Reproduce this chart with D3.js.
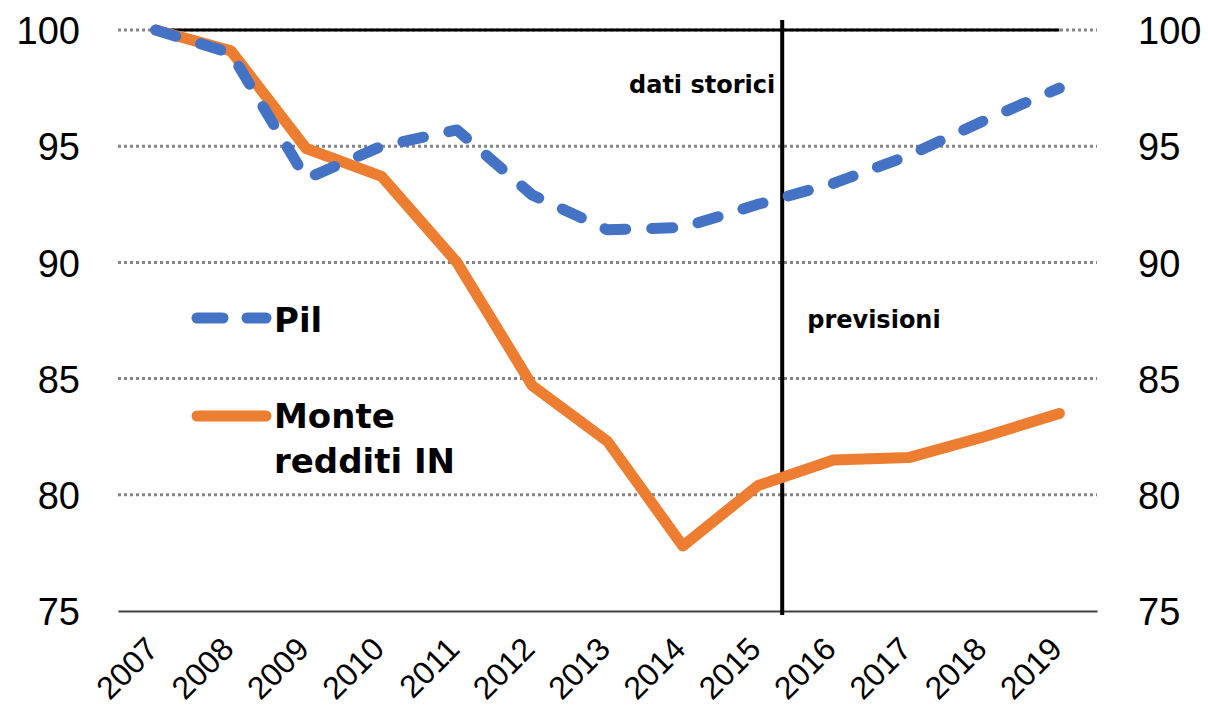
<!doctype html>
<html lang="it">
<head>
  <meta charset="utf-8">
  <title>Pil e monte redditi - D3</title>
  <style>
    body { margin: 0; background: #fff; }
  </style>
</head>
<body>
  <svg width="1208" height="707"></svg>

  <script src="https://cdn.jsdelivr.net/npm/d3@7"></script>
  <script>
    var years = [2007, 2008, 2009, 2010, 2011, 2012, 2013, 2014, 2015, 2016, 2017, 2018, 2019];
    var pil = [100, 99.0, 93.6, 95.0, 95.7, 92.9, 91.4, 91.5, 92.5, 93.4, 94.6, 96.1, 97.5];
    var monteRedditi = [100, 99.1, 94.9, 93.7, 90.0, 84.7, 82.3, 77.8, 80.4, 81.5, 81.6, 82.5, 83.5];
    var baseline = [100, 100, 100, 100, 100, 100, 100, 100, 100, 100, 100, 100, 100];
    var yTicks = [75, 80, 85, 90, 95, 100];
    var dividerYear = 2015.32;
    var seriesNames = ['Pil', 'Monte redditi IN'];

    var svg = d3.select('svg');
    var plotLeft = 118, plotRight = 1097, plotTop = 30, plotBottom = 611;

    var x = d3.scaleLinear().domain([2006.5, 2019.5]).range([plotLeft, plotRight]);
    var y = d3.scaleLinear().domain([75, 100]).range([plotBottom, plotTop]);

    // gridlines (dotted)
    svg.append('g').selectAll('line').data(yTicks.filter(d => d > 75)).enter()
      .append('line')
      .attr('x1', plotLeft).attr('x2', plotRight)
      .attr('y1', d => y(d)).attr('y2', d => y(d))
      .attr('stroke', '#858585')
      .attr('stroke-width', 3)
      .attr('stroke-dasharray', '3,3');

    // left / right axes: labels only
    var axL = svg.append('g')
      .attr('transform', 'translate(' + (plotLeft - 38) + ',0)')
      .call(d3.axisLeft(y).tickValues(yTicks).tickSize(0).tickPadding(0));
    var axR = svg.append('g')
      .attr('transform', 'translate(' + (plotRight + 41) + ',0)')
      .call(d3.axisRight(y).tickValues(yTicks).tickSize(0).tickPadding(0));
    [axL, axR].forEach(function (a) {
      a.select('.domain').remove();
      a.selectAll('text')
        .attr('font-family', '"Liberation Sans", Arial, sans-serif')
        .attr('font-size', '38px')
        .attr('fill', '#000')
        .attr('dy', '0.36em');
    });

    // x axis
    var axX = svg.append('g')
      .attr('transform', 'translate(0,' + plotBottom + ')')
      .call(d3.axisBottom(x).tickValues(years).tickFormat(d3.format('d')).tickSize(0).tickPadding(0));
    axX.select('.domain')
      .attr('stroke', '#404040')
      .attr('stroke-width', 2);
    axX.selectAll('text')
      .attr('font-family', '"Liberation Sans", Arial, sans-serif')
      .attr('font-size', '32px')
      .attr('fill', '#000')
      .attr('text-anchor', 'end')
      .attr('dy', 0)
      .attr('y', 0)
      .attr('transform', 'translate(4,40) rotate(-45)');

    var line = d3.line()
      .x((d, i) => x(years[i]))
      .y(d => y(d));

    // reference line at 100
    svg.append('path')
      .datum(baseline)
      .attr('d', line)
      .attr('fill', 'none')
      .attr('stroke', '#000')
      .attr('stroke-width', 3);

    // divider between historical data and forecasts
    svg.append('line')
      .attr('x1', x(dividerYear)).attr('x2', x(dividerYear))
      .attr('y1', 20).attr('y2', plotBottom + 4)
      .attr('stroke', '#000')
      .attr('stroke-width', 4);

    svg.append('path')
      .datum(monteRedditi)
      .attr('d', line)
      .attr('fill', 'none')
      .attr('stroke', '#ED7D31')
      .attr('stroke-width', 11)
      .attr('stroke-linejoin', 'round')
      .attr('stroke-linecap', 'round');

    svg.append('path')
      .datum(pil)
      .attr('d', line)
      .attr('fill', 'none')
      .attr('stroke', '#4472C4')
      .attr('stroke-width', 11)
      .attr('stroke-linejoin', 'round')
      .attr('stroke-linecap', 'round')
      .attr('stroke-dasharray', '21,26');

    // annotations
    svg.append('text')
      .attr('x', x(dividerYear) - 7).attr('y', 93)
      .attr('text-anchor', 'end')
      .attr('font-family', '"DejaVu Sans", sans-serif')
      .attr('font-weight', 'bold')
      .attr('font-size', '24px')
      .text('dati storici');
    svg.append('text')
      .attr('x', x(dividerYear) + 25).attr('y', 328)
      .attr('font-family', '"DejaVu Sans", sans-serif')
      .attr('font-weight', 'bold')
      .attr('font-size', '24px')
      .text('previsioni');

    // legend
    var lg = svg.append('g');
    lg.append('line')
      .attr('x1', 197).attr('x2', 266).attr('y1', 318).attr('y2', 318)
      .attr('stroke', '#4472C4').attr('stroke-width', 11)
      .attr('stroke-linecap', 'round').attr('stroke-dasharray', '26,24');
    lg.append('text')
      .attr('x', 274).attr('y', 332)
      .attr('font-family', '"DejaVu Sans", sans-serif')
      .attr('font-weight', 'bold').attr('font-size', '34px')
      .text(seriesNames[0]);
    lg.append('line')
      .attr('x1', 197).attr('x2', 266).attr('y1', 416).attr('y2', 416)
      .attr('stroke', '#ED7D31').attr('stroke-width', 11)
      .attr('stroke-linecap', 'round');
    var t2 = lg.append('text')
      .attr('font-family', '"DejaVu Sans", sans-serif')
      .attr('font-weight', 'bold').attr('font-size', '34px');
    t2.append('tspan').attr('x', 274).attr('y', 428).text('Monte');
    t2.append('tspan').attr('x', 274).attr('y', 473).text('redditi IN');
  </script>
</body>
</html>
